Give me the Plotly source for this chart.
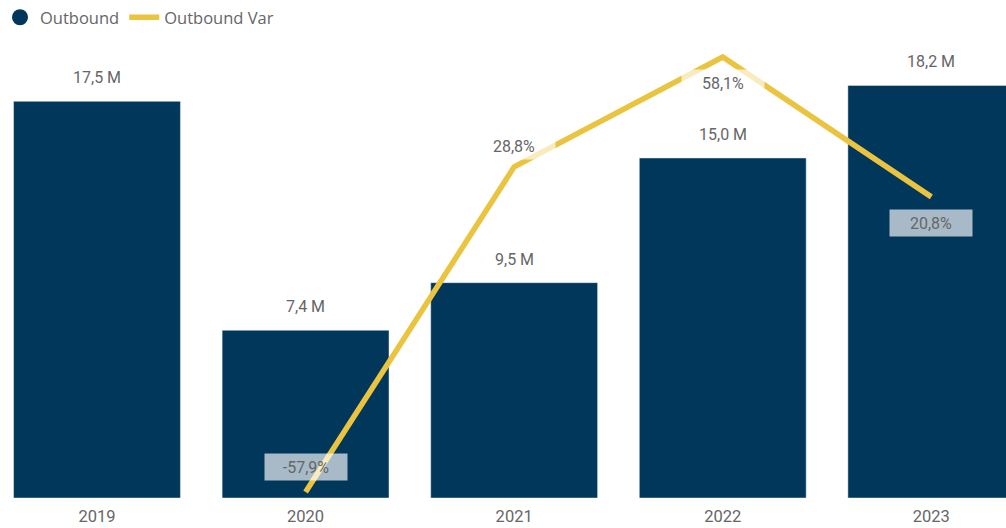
import plotly.graph_objects as go

years = ["2019", "2020", "2021", "2022", "2023"]
outbound = [17.5, 7.4, 9.5, 15.0, 18.2]
outbound_labels = ["17,5 M", "7,4 M", "9,5 M", "15,0 M", "18,2 M"]
var_pct = [None, -57.9, 28.8, 58.1, 20.8]
var_labels = [None, "-57,9%", "28,8%", "58,1%", "20,8%"]

NAVY = "#00375B"
GOLD = "#EBC43F"
GRAY = "#666666"
FONT = "Roboto"

fig = go.Figure()
fig.add_trace(go.Bar(x=years, y=outbound, marker_color=NAVY, name="Outbound",
                     showlegend=False, hoverinfo="skip"))
# legend proxy with round marker
fig.add_trace(go.Scatter(x=[None], y=[None], mode="markers", name="Outbound",
                         marker=dict(color=NAVY, size=16, symbol="circle")))
fig.add_trace(go.Scatter(x=years, y=var_pct, mode="lines", name="Outbound Var",
                         line=dict(color=GOLD, width=5.5), yaxis="y2",
                         connectgaps=False))

annotations = []
for i, (v, lab) in enumerate(zip(outbound, outbound_labels)):
    annotations.append(dict(x=i, y=v, xref="x", yref="y", text=lab, showarrow=False,
                            yanchor="bottom", yshift=12,
                            font=dict(family=FONT, size=16, color=GRAY)))

# line label placement (above / below point)
shifts = [0, 25, 21, -26, -26]
for i, (v, lab, sh) in enumerate(zip(var_pct, var_labels, shifts)):
    if v is None:
        continue
    annotations.append(dict(x=i, y=v, xref="x", yref="y2", text=lab, showarrow=False,
                            yanchor="middle", yshift=sh, width=78, height=22,
                            bgcolor="rgba(255,255,255,0.66)", borderpad=2,
                            font=dict(family=FONT, size=16, color=GRAY)))

fig.update_layout(
    width=1006, height=528,
    margin=dict(l=0, r=0, t=0, b=30),
    plot_bgcolor="white", paper_bgcolor="white",
    bargap=0.2,
    font=dict(family=FONT, color=GRAY),
    xaxis=dict(type="category", range=[-0.465, 4.358], showgrid=False, showline=False,
               ticks="", ticklabelstandoff=6,
               tickfont=dict(family=FONT, size=16.5, color=GRAY)),
    yaxis=dict(range=[0, 21.97], visible=False, showgrid=False),
    yaxis2=dict(range=[-59.5, 73.3], overlaying="y", visible=False, showgrid=False),
    legend=dict(orientation="h", x=0, xanchor="left", y=1.0, yanchor="top",
                font=dict(family="Open Sans", size=16.5, color=GRAY),
                itemwidth=30, tracegroupgap=0, bgcolor="rgba(0,0,0,0)"),
    annotations=annotations,
    hovermode=False,
)

fig.write_html("out.html", config={"displayModeBar": False},
               post_script="document.body.style.margin='0';")
